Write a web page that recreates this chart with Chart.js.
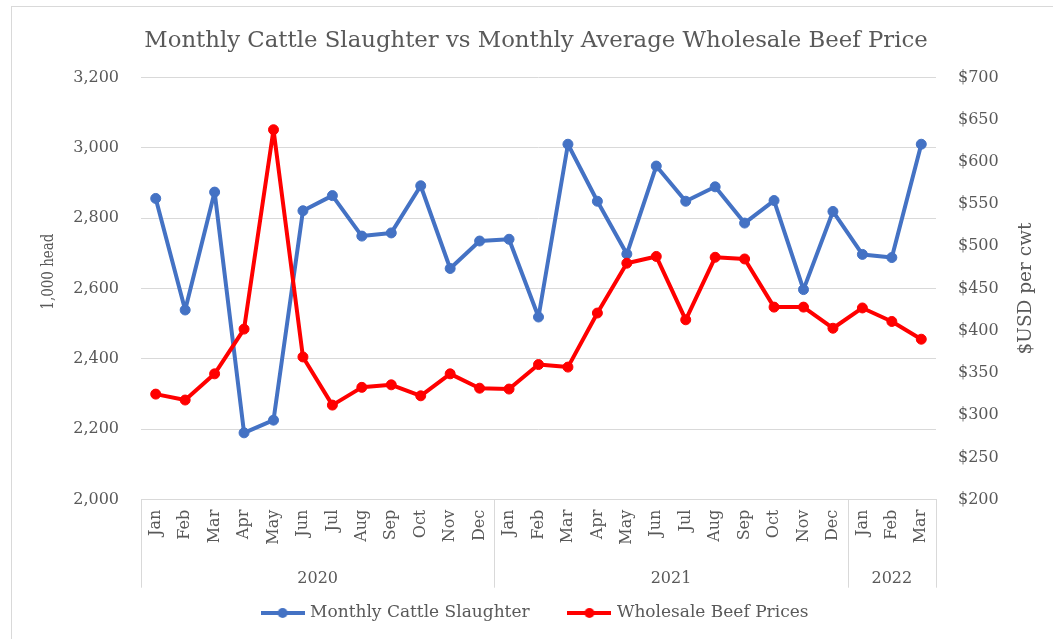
<!DOCTYPE html>
<html>
<head>
<meta charset="utf-8">
<script src="https://cdn.jsdelivr.net/npm/chart.js@4/dist/chart.umd.min.js"></script>
<style>
  html, body { margin: 0; padding: 0; background: #fff; }
  #wrap { position: relative; width: 1053px; height: 639px; overflow: hidden; }
  #frame { position: absolute; left: 11px; top: 6px; width: 1100px; height: 700px; border: 1px solid #d9d9d9; box-sizing: border-box; }
  #c { position: absolute; left: 0; top: 0; }
</style>
</head>
<body>
<div id="wrap">
  <div id="frame"></div>
  <canvas id="c" width="1053" height="639"></canvas>
</div>
<script>
const monthLabels = ['Jan','Feb','Mar','Apr','May','Jun','Jul','Aug','Sep','Oct','Nov','Dec',
                     'Jan','Feb','Mar','Apr','May','Jun','Jul','Aug','Sep','Oct','Nov','Dec',
                     'Jan','Feb','Mar'];
const yearLabels = ['2020', '2021', '2022'];
const yearSpans = [12, 12, 3];
const slaughter = [2856, 2539, 2874, 2190, 2226, 2821, 2864, 2749, 2758, 2892, 2657, 2735,
                   2740, 2519, 3010, 2848, 2698, 2948, 2848, 2889, 2786, 2850, 2597, 2819,
                   2697, 2688, 3010];
const beefPrices = [325, 318, 349, 402, 638, 369, 312, 333, 336, 323, 349, 332,
                    331, 360, 357, 421, 480, 488, 413, 487, 485, 428, 428, 403,
                    427, 411, 390];
const leftTicks = [2000, 2200, 2400, 2600, 2800, 3000, 3200];
const rightTicks = [200, 250, 300, 350, 400, 450, 500, 550, 600, 650, 700];
const leftAxisTitle = '1,000 head';
const rightAxisTitle = '$USD per cwt';

const FONT = "'DejaVu Serif', 'Liberation Serif', serif";
const GRAY = '#595959';
const GRID = '#d9d9d9';
const BLUE = '#4472C4';
const RED = '#FF0000';

function legendIcon(color) {
  const cv = document.createElement('canvas');
  cv.width = 44; cv.height = 12;
  const g = cv.getContext('2d');
  g.strokeStyle = color; g.lineWidth = 4;
  g.beginPath(); g.moveTo(0, 6); g.lineTo(44, 6); g.stroke();
  g.fillStyle = color;
  g.beginPath(); g.arc(22, 6, 5, 0, Math.PI * 2); g.fill();
  return cv;
}

const yearGroupPlugin = {
  id: 'yearGroups',
  afterDraw(chart) {
    const x = chart.scales.x;
    const ctx = chart.ctx;
    const area = chart.chartArea;
    const top = area.bottom;
    const boxBottom = top + 88;
    const half = (x.getPixelForValue(1) - x.getPixelForValue(0)) / 2;
    ctx.save();
    ctx.strokeStyle = GRID;
    ctx.lineWidth = 1;
    let start = 0;
    const bounds = [];
    yearSpans.forEach(n => { bounds.push([start, start + n - 1]); start += n; });
    const xs = [x.getPixelForValue(0) - half];
    bounds.forEach(b => xs.push(x.getPixelForValue(b[1]) + half));
    xs.forEach(px => {
      const p = Math.round(px) + 0.5;
      ctx.beginPath(); ctx.moveTo(p, top); ctx.lineTo(p, boxBottom); ctx.stroke();
    });
    ctx.fillStyle = GRAY;
    ctx.font = "16px " + FONT;
    ctx.textAlign = 'center';
    ctx.textBaseline = 'middle';
    bounds.forEach((b, i) => {
      const cx = (x.getPixelForValue(b[0]) + x.getPixelForValue(b[1])) / 2;
      ctx.fillText(yearLabels[i], cx, top + 79);
    });
    ctx.restore();

    // right axis title, reading bottom-to-top
    const y1 = chart.scales.y1;
    ctx.save();
    ctx.fillStyle = GRAY;
    ctx.textAlign = 'center';
    ctx.textBaseline = 'middle';
    ctx.font = "18.5px " + FONT;
    ctx.translate(y1.right - 26, (area.top + area.bottom) / 2);
    ctx.rotate(-Math.PI / 2);
    ctx.fillText(rightAxisTitle, 0, 0);
    ctx.restore();

    // left axis title, reading bottom-to-top, slightly condensed
    const y0 = chart.scales.y;
    ctx.save();
    ctx.fillStyle = GRAY;
    ctx.textAlign = 'center';
    ctx.textBaseline = 'middle';
    ctx.font = "17px " + FONT;
    const w = ctx.measureText(leftAxisTitle).width;
    ctx.translate(y0.left + 29, area.top + (area.bottom - area.top) * 0.46);
    ctx.rotate(-Math.PI / 2);
    ctx.scale(76 / w, 1);
    ctx.fillText(leftAxisTitle, 0, 0);
    ctx.restore();
  }
};

new Chart(document.getElementById('c'), {
  type: 'line',
  data: {
    labels: monthLabels,
    datasets: [
      {
        label: 'Monthly Cattle Slaughter',
        data: slaughter,
        yAxisID: 'y',
        borderColor: BLUE,
        backgroundColor: BLUE,
        borderWidth: 4,
        borderJoinStyle: 'round',
        borderCapStyle: 'round',
        pointRadius: 5,
        pointBorderWidth: 1,
        pointBackgroundColor: BLUE,
        pointBorderColor: BLUE,
        pointStyle: 'circle',
        tension: 0,
        order: 1
      },
      {
        label: 'Wholesale Beef Prices',
        data: beefPrices,
        yAxisID: 'y1',
        borderColor: RED,
        backgroundColor: RED,
        borderWidth: 4,
        borderJoinStyle: 'round',
        borderCapStyle: 'round',
        pointRadius: 5,
        pointBorderWidth: 1,
        pointBackgroundColor: RED,
        pointBorderColor: RED,
        pointStyle: 'circle',
        tension: 0,
        order: 0
      }
    ]
  },
  options: {
    responsive: false,
    animation: false,
    layout: { padding: { left: 20, right: 1, top: 0, bottom: 7.5 } },
    plugins: {
      title: {
        display: true,
        text: 'Monthly Cattle Slaughter vs Monthly Average Wholesale Beef Price',
        color: GRAY,
        font: { family: FONT, size: 22.8, weight: 'normal' },
        padding: { top: 27, bottom: 23 }
      },
      legend: {
        position: 'bottom',
        labels: {
          color: GRAY,
          font: { family: FONT, size: 17 },
          usePointStyle: true,
          pointStyleWidth: 38,
          padding: 40.8,
          sort: (a, b) => a.datasetIndex - b.datasetIndex,
          generateLabels(chart) {
            return chart.data.datasets.map((ds, i) => ({
              text: ds.label,
              fillStyle: ds.borderColor,
              strokeStyle: ds.borderColor,
              lineWidth: 0,
              pointStyle: legendIcon(ds.borderColor),
              datasetIndex: i,
              hidden: false,
              fontColor: GRAY
            }));
          }
        }
      },
      tooltip: { enabled: false }
    },
    scales: {
      x: {
        type: 'category',
        offset: true,
        grid: { display: false, drawTicks: false },
        border: { display: true, color: GRID, width: 1 },
        ticks: {
          color: GRAY,
          font: { family: FONT, size: 16 },
          minRotation: 90,
          maxRotation: 90,
          autoSkip: false,
          padding: 10
        },
        afterFit(scale) { scale.height = 64; }
      },
      y: {
        position: 'left',
        min: 2000,
        max: 3200,
        afterBuildTicks(scale) { scale.ticks = leftTicks.map(v => ({ value: v })); },
        grid: { color: GRID, drawTicks: false },
        border: { display: false },
        ticks: {
          color: GRAY,
          font: { family: FONT, size: 16 },
          padding: 22,
          callback: v => v.toLocaleString('en-US')
        },
        title: { display: false },
        afterFit(scale) { scale.width = 121; }
      },
      y1: {
        position: 'right',
        min: 200,
        max: 700,
        afterBuildTicks(scale) { scale.ticks = rightTicks.map(v => ({ value: v })); },
        grid: { display: false, drawTicks: false },
        border: { display: false },
        ticks: {
          color: GRAY,
          font: { family: FONT, size: 16 },
          padding: 22,
          callback: v => '$' + v
        },
        title: { display: false },
        afterFit(scale) { scale.width = 116; }
      }
    }
  },
  plugins: [yearGroupPlugin]
});
</script>
</body>
</html>
